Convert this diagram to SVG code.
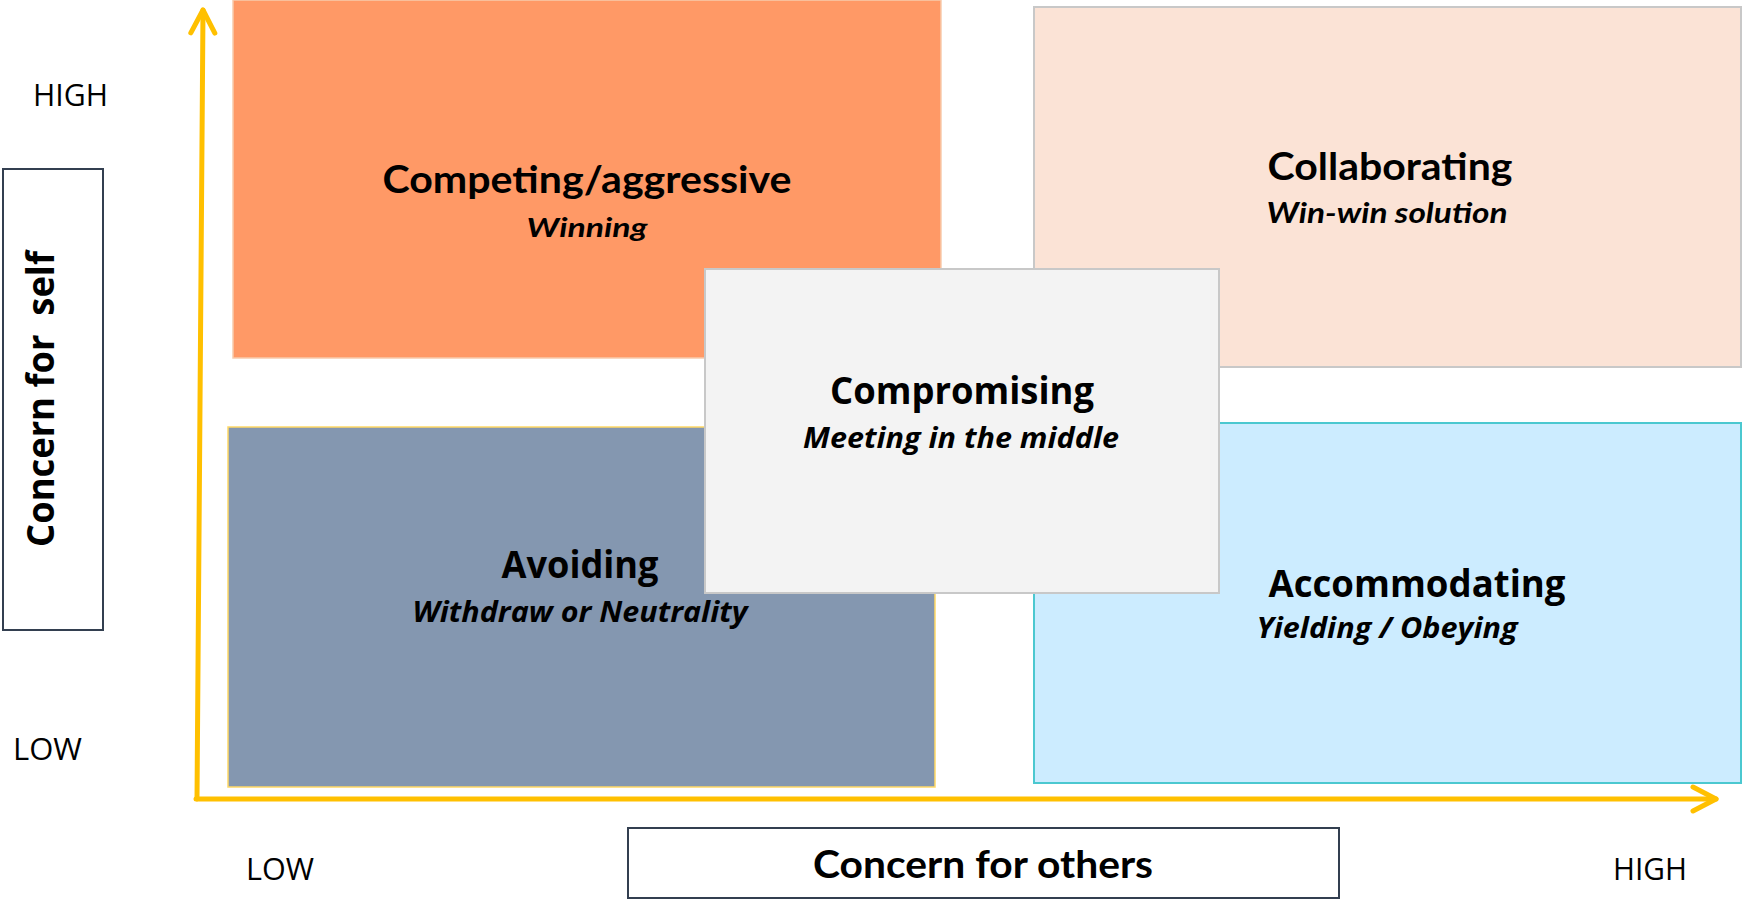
<svg xmlns="http://www.w3.org/2000/svg" width="1742" height="901" viewBox="0 0 1742 901">
  <defs>
    <style>
      .title { font-family: "Open Sans", "Noto Sans", "DejaVu Sans", sans-serif; font-weight: 700; fill: #000; text-anchor: middle; }
      .title-c { font-family: Lato, "Liberation Sans", sans-serif; font-weight: 700; fill: #000; text-anchor: middle; }
      .sub { font-family: "Open Sans", "Noto Sans", "DejaVu Sans", sans-serif; font-weight: 700; font-style: italic; fill: #000; text-anchor: middle; }
      .sub-c { font-family: Lato, "Liberation Sans", sans-serif; font-weight: 700; font-style: italic; fill: #000; text-anchor: middle; }
      .level { font-family: "Open Sans", "Noto Sans", "DejaVu Sans", sans-serif; font-weight: 400; fill: #000; }
      .axis { fill: none; stroke: #FFC000; stroke-width: 5; stroke-linecap: round; stroke-linejoin: round; }
      .label-box { fill: #fff; stroke: #333F50; stroke-width: 2; }
    </style>
    <marker id="chevron" markerUnits="userSpaceOnUse" viewBox="-30 -16 34 32" markerWidth="34" markerHeight="32" refX="0" refY="0" orient="auto">
      <path d="M -23 -12 L 0 0 L -23 12" fill="none" stroke="#FFC000" stroke-width="5" stroke-linecap="round" stroke-linejoin="round"/>
    </marker>
  </defs>

  <rect width="1742" height="901" fill="#fff"/>

  <!-- quadrant: competing -->
  <g id="competing">
    <rect x="233" y="0" width="708" height="358" fill="#FF9966" stroke="#F8CBAD" stroke-width="1.5"/>
    <text class="title-c" x="587" y="193" font-size="38" textLength="409" lengthAdjust="spacingAndGlyphs">Competing/aggressive</text>
    <text class="sub-c" x="587" y="237" font-size="27" textLength="121" lengthAdjust="spacingAndGlyphs">Winning</text>
  </g>

  <!-- quadrant: collaborating -->
  <g id="collaborating">
    <rect x="1034" y="7" width="707" height="360" fill="#FBE3D6" stroke="#C8C8C8" stroke-width="2"/>
    <text class="title-c" x="1390" y="180" font-size="38" textLength="245" lengthAdjust="spacingAndGlyphs">Collaborating</text>
    <text class="sub-c" x="1387" y="223" font-size="28" textLength="241" lengthAdjust="spacingAndGlyphs">Win-win solution</text>
  </g>

  <!-- quadrant: avoiding -->
  <g id="avoiding">
    <rect x="228" y="427" width="707" height="360" fill="#8497B0" stroke="#FFD966" stroke-width="1.5"/>
    <text class="title" x="580" y="578" font-size="37" textLength="157" lengthAdjust="spacingAndGlyphs">Avoiding</text>
    <text class="sub" x="580" y="622" font-size="29" textLength="335" lengthAdjust="spacingAndGlyphs">Withdraw or Neutrality</text>
  </g>

  <!-- quadrant: accommodating -->
  <g id="accommodating">
    <rect x="1034" y="423" width="707" height="360" fill="#CCECFF" stroke="#4BC8D0" stroke-width="2"/>
    <text class="title" x="1417" y="597" font-size="37" textLength="297" lengthAdjust="spacingAndGlyphs">Accommodating</text>
    <text class="sub" x="1387" y="638" font-size="29" textLength="261" lengthAdjust="spacingAndGlyphs">Yielding / Obeying</text>
  </g>

  <!-- centre: compromising -->
  <g id="compromising">
    <rect x="705" y="269" width="514" height="324" fill="#F3F3F3" stroke="#C8C8C8" stroke-width="2"/>
    <text class="title" x="962" y="404" font-size="37" textLength="264" lengthAdjust="spacingAndGlyphs">Compromising</text>
    <text class="sub" x="961" y="448" font-size="29" textLength="316" lengthAdjust="spacingAndGlyphs">Meeting in the middle</text>
  </g>

  <!-- axes -->
  <g id="connectors">
    <path class="axis" d="M 197 799 L 203 10" marker-end="url(#chevron)"/>
    <path class="axis" d="M 196 799 L 1716 799" marker-end="url(#chevron)"/>
  </g>

  <!-- axis titles -->
  <g id="concern-self">
    <rect class="label-box" x="3" y="169" width="100" height="461"/>
    <text class="title" transform="translate(54,399) rotate(-90)" font-size="37" textLength="296" lengthAdjust="spacingAndGlyphs" xml:space="preserve">Concern for  self</text>
  </g>
  <g id="concern-others">
    <rect class="label-box" x="628" y="828" width="711" height="70"/>
    <text class="title-c" x="983" y="878" font-size="38" textLength="340" lengthAdjust="spacingAndGlyphs">Concern for others</text>
  </g>

  <!-- scale labels -->
  <g id="levels">
    <text class="level" x="33" y="106" font-size="31" textLength="75" lengthAdjust="spacingAndGlyphs">HIGH</text>
    <text class="level" x="13" y="760" font-size="31" textLength="69" lengthAdjust="spacingAndGlyphs">LOW</text>
    <text class="level" x="246" y="880" font-size="31" textLength="68" lengthAdjust="spacingAndGlyphs">LOW</text>
    <text class="level" x="1613" y="880" font-size="31" textLength="74" lengthAdjust="spacingAndGlyphs">HIGH</text>
  </g>
</svg>
